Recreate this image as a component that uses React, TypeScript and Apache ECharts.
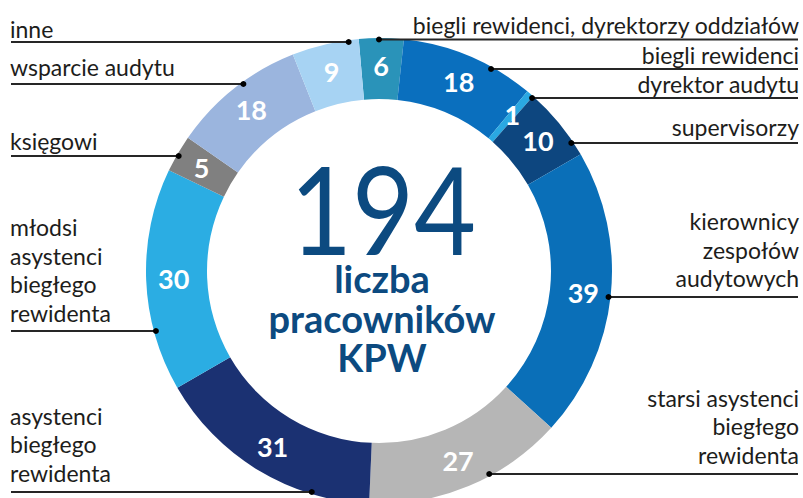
import React, { useEffect, useRef } from 'react';
import * as echarts from 'echarts';

// ---- data ----
const categories = [
  'biegli rewidenci, dyrektorzy oddziałów',
  'biegli rewidenci',
  'dyrektor audytu',
  'supervisorzy',
  'kierownicy\nzespołów\naudytowych',
  'starsi asystenci\nbiegłego\nrewidenta',
  'asystenci\nbiegłego\nrewidenta',
  'młodsi\nasystenci\nbiegłego\nrewidenta',
  'księgowi',
  'wsparcie audytu',
  'inne',
];
const values = [6, 18, 1, 10, 39, 27, 31, 30, 5, 18, 9];
const centerLines = ['liczba', 'pracowników', 'KPW'];

// ---- styling / layout ----
const colors = ['#2a93b9', '#0a6fbe', '#2aa8e2', '#0d467f', '#0a6fb8', '#b6b6b6', '#1b3172', '#2badE3', '#808080', '#9bb5de', '#a7d3f3'];
const CX = 379;
const CY = 271;
const R_OUT = 233;
const R_IN = 172;
const START = 95;
const labelSide = ['right', 'right', 'right', 'right', 'right', 'right', 'left', 'left', 'left', 'left', 'left'];
const leaderY = [39.5, 69, 98, 143, 297, 474, 492, 331, 156, 84, 42];
const textBaseY = [32, 62.7, 91.7, 134, 285.7, 462, 480, 320, 148, 74, 36];
const FONT = 'Lato, "Noto Sans", sans-serif';
const NAVY = '#0c4a80';
const LABEL_SIZE = 23;

export default function App() {
  const ref = useRef<HTMLDivElement>(null);
  useEffect(() => {
    if (!ref.current) return;
    const chart = echarts.init(ref.current, null, { renderer: 'svg' });
    const total = values.reduce((a, b) => a + b, 0);

    const graphics: any[] = [];
    categories.forEach((_, i) => {
      const side = labelSide[i];
      const dy = leaderY[i] - CY;
      const rr = R_OUT - 2;
      const dx = Math.sqrt(Math.max(0, rr * rr - dy * dy));
      const dotX = side === 'right' ? CX + dx : CX - dx;
      const endX = side === 'right' ? 798 : 11;
      graphics.push({
        type: 'line',
        z: 100,
        silent: true,
        shape: { x1: dotX, y1: leaderY[i], x2: endX, y2: leaderY[i] },
        style: { stroke: '#262626', lineWidth: 1.8 },
      });
      graphics.push({
        type: 'circle',
        z: 101,
        silent: true,
        shape: { cx: dotX, cy: leaderY[i], r: 3 },
        style: { fill: '#000' },
      });
    });

    graphics.push({
      type: 'text',
      z: 100,
      x: 383,
      y: 208,
      scaleX: 0.87,
      style: {
        text: String(total),
        x: 0,
        y: 0,
        font: `400 123px ${FONT}`,
        fill: NAVY,
        align: 'center',
        verticalAlign: 'middle',
        textAlign: 'center',
        textVerticalAlign: 'middle',
      },
    });
    graphics.push({
      type: 'text',
      z: 100,
      x: 382,
      y: 317.5,
      style: {
        text: centerLines.join('\n'),
        x: 0,
        y: 0,
        font: `700 38px ${FONT}`,
        lineHeight: 39.5,
        fill: NAVY,
        align: 'center',
        verticalAlign: 'middle',
        textAlign: 'center',
        textVerticalAlign: 'middle',
      },
    });

    chart.setOption({
      animation: false,
      backgroundColor: '#ffffff',
      series: [
        {
          type: 'pie',
          center: [CX, CY],
          radius: [R_IN, R_OUT],
          startAngle: START,
          clockwise: true,
          silent: true,
          emphasis: { disabled: true },
          itemStyle: { borderWidth: 0 },
          label: {
            show: true,
            position: 'inside',
            formatter: '{c}',
            color: '#ffffff',
            fontFamily: FONT,
            fontWeight: 'bold',
            fontSize: 27,
          },
          labelLine: { show: false },
          data: values.map((v, i) => ({ name: categories[i], value: v, itemStyle: { color: colors[i] } })),
        },
        {
          type: 'pie',
          center: [CX, CY],
          radius: [R_IN, R_OUT],
          startAngle: START,
          clockwise: true,
          silent: true,
          avoidLabelOverlap: false,
          emphasis: { disabled: true },
          itemStyle: { color: 'rgba(0,0,0,0)', borderWidth: 0 },
          label: {
            show: true,
            position: 'outside',
            formatter: '{b}',
            color: '#1d1d1b',
            fontFamily: FONT,
            fontSize: LABEL_SIZE,
            lineHeight: 28.5,
          },
          labelLine: { show: false },
          labelLayout: (p: any) => {
            const i = p.dataIndex;
            const side = labelSide[i];
            return {
              x: side === 'right' ? 799 : 10,
              y: textBaseY[i] + 14.25 - 0.3225 * LABEL_SIZE,
              align: side,
              verticalAlign: 'bottom',
            };
          },
          data: values.map((v, i) => ({ name: categories[i], value: v })),
        },
      ],
      graphic: graphics,
    });
    return () => chart.dispose();
  }, []);
  return <div ref={ref} style={{ position: 'absolute', left: 0, top: 0, width: 803, height: 498 }} />;
}
